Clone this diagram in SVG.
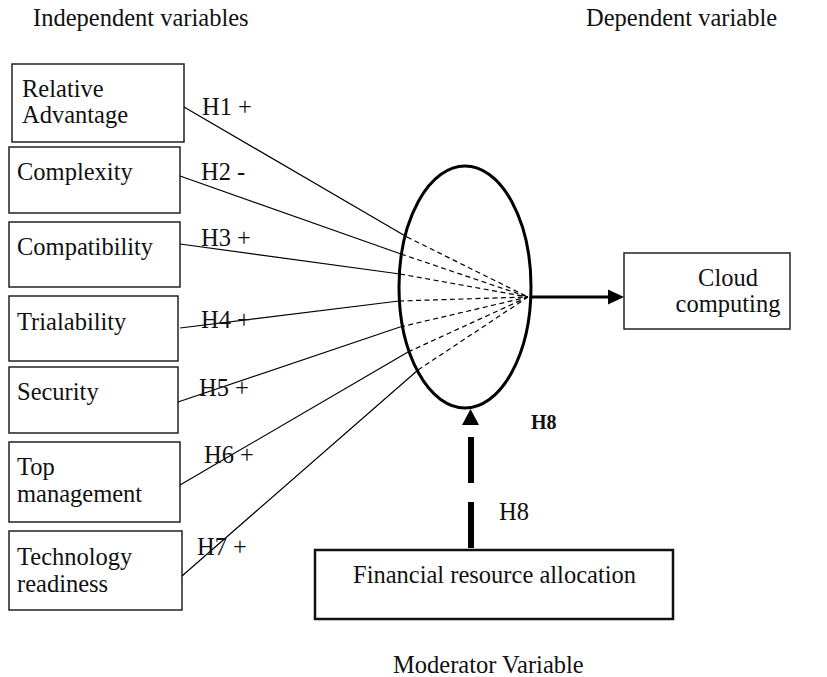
<svg xmlns="http://www.w3.org/2000/svg" width="827" height="677" viewBox="0 0 827 677">
<style>
text{font-family:"Liberation Serif","Times New Roman",serif;font-size:24.5px;fill:#111}
.box{fill:#fff;stroke:#222;stroke-width:1.5}
.solid{stroke:#000;stroke-width:1.2;fill:none}
.dash{stroke:#000;stroke-width:1.2;fill:none;stroke-dasharray:5 3.5}
.mid{text-anchor:middle}
</style>
<rect width="827" height="677" fill="#fff"/>
<text x="33" y="26">Independent variables</text>
<text x="586" y="26">Dependent variable</text>
<text x="393" y="673">Moderator Variable</text>

<g id="n1"><rect class="box" x="12" y="64" width="172" height="78"/><text x="22" y="97">Relative</text><text x="22" y="123">Advantage</text></g>
<g id="n2"><rect class="box" x="9" y="147" width="171" height="66"/><text x="17" y="180">Complexity</text></g>
<g id="n3"><rect class="box" x="9" y="222" width="171" height="65"/><text x="17" y="255">Compatibility</text></g>
<g id="n4"><rect class="box" x="9" y="296" width="169" height="65"/><text x="17" y="330">Trialability</text></g>
<g id="n5"><rect class="box" x="9" y="367" width="169" height="66"/><text x="17" y="400">Security</text></g>
<g id="n6"><rect class="box" x="9" y="442" width="171" height="80"/><text x="17" y="475">Top</text><text x="17" y="502">management</text></g>
<g id="n7"><rect class="box" x="9" y="531" width="173" height="79"/><text x="17" y="565">Technology</text><text x="17" y="592">readiness</text></g>

<g id="moderator"><ellipse cx="465" cy="287" rx="66" ry="121" fill="none" stroke="#000" stroke-width="3"/></g>
<g id="cloud"><rect class="box" x="624" y="253" width="166" height="76"/><text class="mid" x="728" y="286">Cloud</text><text class="mid" x="728" y="312">computing</text></g>
<g id="fin"><rect x="315" y="550" width="358" height="69" fill="#fff" stroke="#111" stroke-width="2.5"/><text class="mid" x="494.5" y="583">Financial resource allocation</text></g>

<g id="connectors">
<polyline class="solid" points="184,107 407,237"/><line class="dash" x1="407" y1="237" x2="528" y2="297"/>
<polyline class="solid" points="180,176 401,254"/><line class="dash" x1="401" y1="254" x2="528" y2="297"/>
<polyline class="solid" points="180,244 400,274"/><line class="dash" x1="400" y1="274" x2="528" y2="297"/>
<polyline class="solid" points="180,328 399,301"/><line class="dash" x1="399" y1="301" x2="528" y2="297"/>
<polyline class="solid" points="178,402 400,327"/><line class="dash" x1="400" y1="327" x2="528" y2="297"/>
<polyline class="solid" points="180,485 408,352"/><line class="dash" x1="408" y1="352" x2="528" y2="297"/>
<polyline class="solid" points="182,576 418,370"/><line class="dash" x1="418" y1="370" x2="528" y2="297"/>
<line x1="531" y1="297" x2="609" y2="297" stroke="#000" stroke-width="3"/>
<polygon points="624,297 608,289.5 608,304.5" fill="#000"/>
<line x1="471" y1="548" x2="471" y2="437" stroke="#000" stroke-width="6" stroke-dasharray="46 19"/>
<polygon points="470.5,409 462,425 479,425" fill="#000"/>
</g>

<g id="labels">
<text x="202" y="115">H1 +</text>
<text x="201" y="180">H2 -</text>
<text x="201" y="246">H3 +</text>
<text x="201" y="328">H4 +</text>
<text x="199" y="396">H5 +</text>
<text x="204" y="463">H6 +</text>
<text x="197" y="555">H7 +</text>
<text x="531" y="429" style="font-weight:bold;font-size:20px">H8</text>
<text x="499" y="520">H8</text>
</g>
</svg>
